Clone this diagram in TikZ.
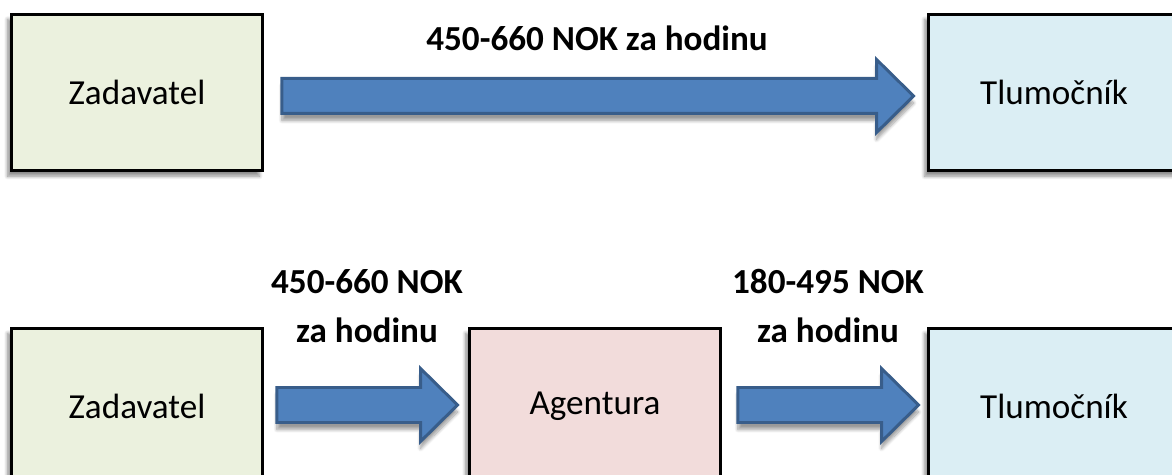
\documentclass[tikz,border=0pt]{standalone}
\usepackage{fontspec}
\setmainfont{Carlito}
\usetikzlibrary{calc,shadows.blur}

% block arrow between two named coordinates (start of shaft, tip)
\def\shaft{17.5}
\def\headw{36.5}
\def\headlen{37}
\newcommand\payarrow[2]{%
  \draw[payflow]
    ($(#1)+(0,-\shaft)$) -- ($(#2)+(-\headlen,-\shaft)$)
    -- ($(#2)+(-\headlen,-\headw)$) -- (#2)
    -- ($(#2)+(-\headlen,\headw)$) -- ($(#2)+(-\headlen,\shaft)$)
    -- ($(#1)+(0,\shaft)$) -- cycle;}

\definecolor{clientgreen}{RGB}{235,241,222}
\definecolor{interpblue}{RGB}{219,238,244}
\definecolor{agencyred}{RGB}{242,220,219}
\definecolor{arrowfill}{RGB}{79,129,189}
\definecolor{arrowline}{RGB}{56,93,138}

\begin{document}
\begin{tikzpicture}[x=0.02cm, y=-0.02cm,
    party/.style={draw=black, line width=1.7pt,
      minimum width=5.04cm, minimum height=3.14cm,
      font=\fontsize{20}{24}\selectfont,
      blur shadow={shadow xshift=-2pt, shadow yshift=-3pt,
        shadow opacity=45, shadow blur steps=8}},
    payflow/.style={fill=arrowfill, draw=arrowline, line width=1.7pt,
      line join=miter,
      blur shadow={shadow xshift=0pt, shadow yshift=-4pt,
        shadow opacity=40, shadow blur steps=8}},
    price/.style={font=\bfseries\fontsize{20}{28}\selectfont, align=center}]

  \clip (0,0) rectangle (1172,475);

  % === direct: client pays interpreter ===
  \node[party, fill=clientgreen] (zadTop) at (137,92.5) {Zadavatel};
  \node[party, fill=interpblue]  (tlmTop) at (1054,92.5) {Tlumočník};

  \coordinate (topStart) at ($(zadTop.east)+(17.5,3.5)$);
  \coordinate (topTip)   at ($(tlmTop.west)+(-13,3.5)$);
  \payarrow{topStart}{topTip}

  \node[price] (topPrice) at (597,38) {450-660 NOK za hodinu};

  % === via agency ===
  \node[party, fill=clientgreen] (zadBot) at (137,406.5) {Zadavatel};
  \node[party, fill=agencyred]   (agent)  at (595,406.5) {Agentura};
  \node[party, fill=interpblue]  (tlmBot) at (1054,406.5) {Tlumočník};

  \coordinate (leftStart)  at ($(zadBot.east)+(12.5,-1.5)$);
  \coordinate (leftTip)    at ($(agent.west)+(-10,-1.5)$);
  \coordinate (rightStart) at ($(agent.east)+(15.5,-1.5)$);
  \coordinate (rightTip)   at ($(tlmBot.west)+(-8,-1.5)$);
  \payarrow{leftStart}{leftTip}
  \payarrow{rightStart}{rightTip}

  \node[price] (clientPrice) at (367,306) {450-660 NOK\\za hodinu};
  \node[price] (agentPrice)  at (828,306) {180-495 NOK\\za hodinu};

\end{tikzpicture}
\end{document}
